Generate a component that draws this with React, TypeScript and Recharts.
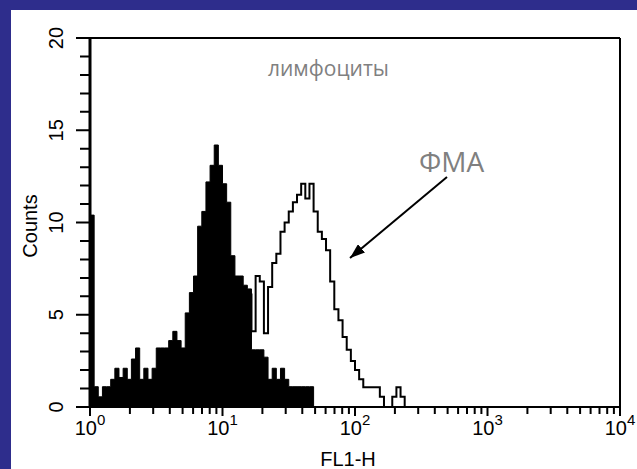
import { ComposedChart, Area, Line, XAxis, YAxis, ReferenceLine } from 'recharts';

// FL1-H channel layout: 32 bins per decade, bin i starts at 10^(i/32)
const BINS_PER_DECADE = 32;

// control histogram (filled), counts from bin 0
const controlCounts = [
  10.4, 1.1, 0.55, 1.1, 1.1, 1.5, 2.1, 1.6, 2.1, 1.5,
  2.6, 3.2, 1.5, 2.1, 1.5, 2.1, 3.2, 3.2, 3.2, 3.6,
  4.1, 3.6, 3.2, 5.1, 6.2, 7.1, 9.8, 10.6, 12.2, 13.1,
  14.2, 13.1, 12.1, 11.1, 8.2, 7.1, 7.1, 6.6, 6.4, 3.1,
  3.1, 3.1, 2.7, 1.5, 2.1, 1.5, 2.1, 1.5, 1.1, 1.1,
  1.1, 1.1, 1.1, 1.1, 0,
];

// ФМА histogram (outline), counts from bin 36
const PMA_START = 36;
const pmaCounts = [
  4.5, 5.5, 6.1, 4.1, 7.1, 6.8, 4.0, 6.5, 7.8, 8.3,
  9.5, 10.0, 10.6, 11.1, 11.5, 12.1, 11.3, 12.1, 10.6, 9.5,
  9.1, 8.5, 6.8, 5.3, 4.7, 3.8, 3.1, 2.5, 2.0, 1.5,
  1.07, 1.07, 1.07, 1.07, 0.55, 0, 0, 0.55, 1.07, 0.55,
  0,
];

const xTicks = [
  1, 2, 3, 4, 5, 6, 7, 8, 9,
  10, 20, 30, 40, 50, 60, 70, 80, 90,
  100, 200, 300, 400, 500, 600, 700, 800, 900,
  1000, 2000, 3000, 4000, 5000, 6000, 7000, 8000, 9000,
  10000,
];
const yTicks = [0, 1, 2, 3, 4, 5, 6, 7, 8, 9, 10, 11, 12, 13, 14, 15, 16, 17, 18, 19, 20];

const binCount = PMA_START + pmaCounts.length;
const rows = Array.from({ length: binCount }, (_, i) => ({
  fl: Math.pow(10, i / BINS_PER_DECADE),
  control: i < controlCounts.length ? controlCounts[i] : null,
  pma: i >= PMA_START ? pmaCounts[i - PMA_START] : null,
}));

const BLUE = '#2e2d8c';
const AXIS_FONT = "'Liberation Sans', Arial, sans-serif";
const NOTE_FONT = "'Open Sans', 'Noto Sans', sans-serif";

// chart box on the page and plot box inside it
const CHART_LEFT = 11;
const CHART_TOP = 10;
const CHART_W = 626;
const CHART_H = 459;
const MARGIN = { top: 28, right: 17, bottom: 0, left: 0 };
const Y_AXIS_W = 79;
const X_AXIS_H = 62;
const PLOT_W = CHART_W - Y_AXIS_W - MARGIN.right;
const PLOT_H = CHART_H - X_AXIS_H - MARGIN.top;
const PLOT_LEFT = CHART_LEFT + Y_AXIS_W;
const PLOT_BOTTOM = CHART_TOP + MARGIN.top + PLOT_H;

const isDecade = (v: number) => {
  const e = Math.log10(v);
  return Math.abs(e - Math.round(e)) < 1e-9;
};

// same mapping the axes use, for the tick marks beside the frame
const tickX = (v: number) => PLOT_LEFT + (Math.log10(v) / 4) * PLOT_W;
const tickY = (v: number) => PLOT_BOTTOM - (v / 20) * PLOT_H;

const tickPath =
  xTicks.map((v) => `M${tickX(v).toFixed(1)},${PLOT_BOTTOM}v${isDecade(v) ? 9 : 7}`).join('') +
  yTicks.map((v) => `M${PLOT_LEFT},${tickY(v).toFixed(1)}h${v % 5 === 0 ? -14 : -10}`).join('');

function XTick(props: any) {
  const { x, y, payload } = props;
  if (!isDecade(payload.value)) return <g />;
  return (
    <text x={x} y={y + 28} textAnchor="middle" fontSize={20} fontFamily={AXIS_FONT} fill="#000">
      10
      <tspan dy={-10} fontSize={15}>
        {Math.round(Math.log10(payload.value))}
      </tspan>
    </text>
  );
}

function YTick(props: any) {
  const { x, y, payload } = props;
  const v = payload.value;
  if (v % 5 !== 0) return <g />;
  return (
    <text
      transform={`translate(${x - 27},${y}) rotate(-90)`}
      textAnchor="middle"
      fontSize={20}
      fontFamily={AXIS_FONT}
      fill="#000"
    >
      {v}
    </text>
  );
}

export default function App() {
  return (
    <div
      style={{
        position: 'absolute',
        left: 0,
        top: 0,
        width: 637,
        height: 469,
        background: BLUE,
        overflow: 'hidden',
      }}
    >
      <div
        style={{
          position: 'absolute',
          left: CHART_LEFT,
          top: CHART_TOP,
          width: CHART_W,
          height: CHART_H,
          background: '#fff',
        }}
      >
        <ComposedChart width={CHART_W} height={CHART_H} data={rows} margin={MARGIN}>
          <XAxis
            dataKey="fl"
            type="number"
            scale="log"
            domain={[1, 10000]}
            ticks={xTicks}
            interval={0}
            allowDataOverflow
            height={X_AXIS_H}
            tickSize={0}
            tickMargin={0}
            tickLine={false}
            axisLine={{ stroke: '#000', strokeWidth: 2 }}
            tick={(p: any) => <XTick {...p} />}
          />
          <YAxis
            type="number"
            domain={[0, 20]}
            ticks={yTicks}
            interval={0}
            allowDataOverflow
            width={Y_AXIS_W}
            tickSize={0}
            tickMargin={0}
            tickLine={false}
            axisLine={{ stroke: '#000', strokeWidth: 3 }}
            tick={(p: any) => <YTick {...p} />}
          />
          <ReferenceLine y={20} stroke="#000" strokeWidth={2} />
          <ReferenceLine x={10000} stroke="#000" strokeWidth={2} />
          <Area
            type="stepAfter"
            dataKey="control"
            stroke="#000"
            strokeWidth={1}
            fill="#000"
            fillOpacity={1}
            dot={false}
            activeDot={false}
            isAnimationActive={false}
          />
          <Line
            type="stepAfter"
            dataKey="pma"
            stroke="#000"
            strokeWidth={2}
            dot={false}
            activeDot={false}
            isAnimationActive={false}
          />
        </ComposedChart>
      </div>
      <svg width={637} height={469} style={{ position: 'absolute', left: 0, top: 0, pointerEvents: 'none' }}>
        <defs>
          <marker
            id="arrowHead"
            viewBox="0 0 10 10"
            refX={10}
            refY={5}
            markerWidth={15}
            markerHeight={11}
            markerUnits="userSpaceOnUse"
            preserveAspectRatio="none"
            orient="auto"
          >
            <path d="M0,0 L10,5 L0,10 z" fill="#000" />
          </marker>
        </defs>
        <path d={tickPath} stroke="#000" strokeWidth={2} fill="none" />
        <line x1={447} y1={177} x2={350} y2={258} stroke="#000" strokeWidth={2} markerEnd="url(#arrowHead)" />
        <text x={268} y={76} fontSize={21} fontFamily={NOTE_FONT} fill="#808080">
          лимфоциты
        </text>
        <text x={419} y={172} fontSize={28} fontFamily={NOTE_FONT} fill="#808080">
          ФМА
        </text>
        <text
          transform="translate(37,226) rotate(-90)"
          textAnchor="middle"
          fontSize={20}
          fontFamily={AXIS_FONT}
          fill="#000"
        >
          Counts
        </text>
        <text x={348} y={466} textAnchor="middle" fontSize={20} fontFamily={AXIS_FONT} fill="#000">
          FL1-H
        </text>
      </svg>
    </div>
  );
}
